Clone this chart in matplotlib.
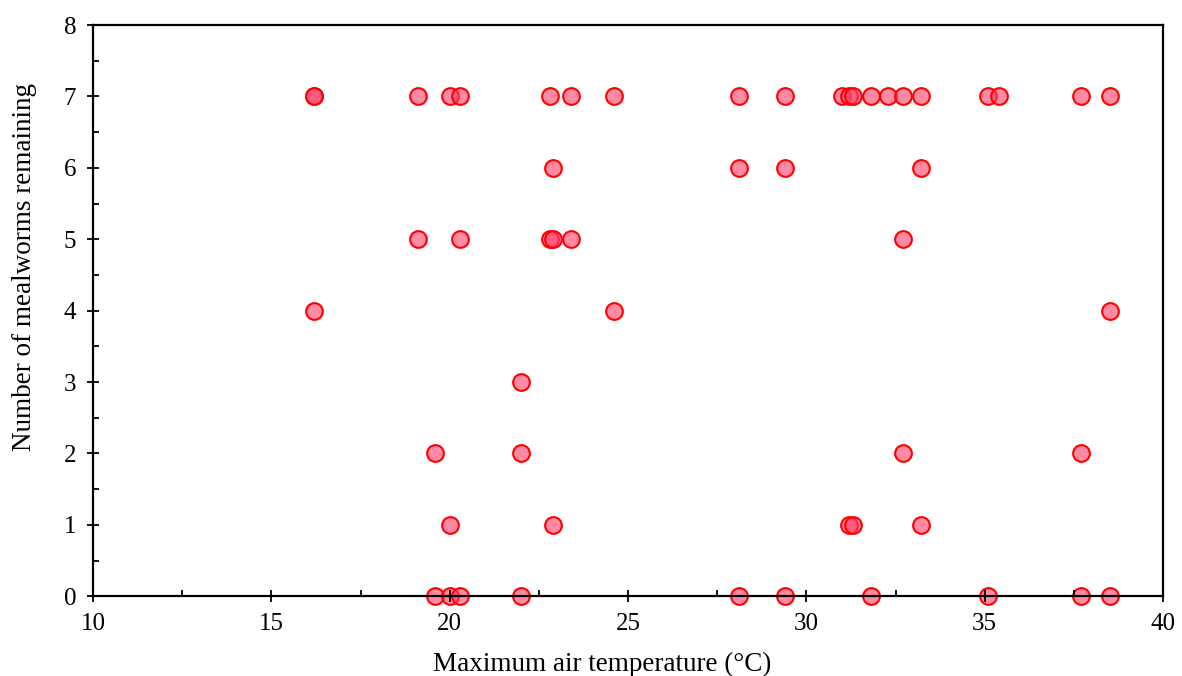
import matplotlib.pyplot as plt
from matplotlib.ticker import MultipleLocator

plt.rcParams["font.family"] = ["Liberation Serif", "DejaVu Serif"]

# max air temperature (deg C) and mealworms remaining, one entry per trial
temp_7 = [16.2, 16.2, 19.1, 20.0, 20.3, 22.8, 23.4, 24.6, 28.1, 29.4,
          31.0, 31.2, 31.3, 31.8, 32.3, 32.7, 33.2, 35.1, 35.4, 37.7, 38.5]
temp_6 = [22.9, 28.1, 29.4, 33.2]
temp_5 = [19.1, 20.3, 22.8, 22.9, 23.4, 32.7]
temp_4 = [16.2, 24.6, 38.5]
temp_3 = [22.0]
temp_2 = [19.6, 22.0, 32.7, 37.7]
temp_1 = [20.0, 22.9, 31.2, 31.3, 33.2]
temp_0 = [19.6, 20.0, 20.3, 22.0, 28.1, 29.4, 31.8, 35.1, 37.7, 38.5]

groups = {7: temp_7, 6: temp_6, 5: temp_5, 4: temp_4,
          3: temp_3, 2: temp_2, 1: temp_1, 0: temp_0}

x = []
y = []
for count, temps in groups.items():
    x += temps
    y += [count] * len(temps)

fig = plt.figure(figsize=(11.82, 6.76), dpi=100)
ax = fig.add_axes([0.0787, 0.118, 0.9053, 0.845])

ax.scatter(x, y, s=145, facecolors=(1.0, 0.24, 0.4, 0.6),
           edgecolors="red", linewidths=1.5, clip_on=False, zorder=1)

ax.set_xlim(10, 40)
ax.set_ylim(0, 8)
ax.xaxis.set_major_locator(MultipleLocator(5))
ax.xaxis.set_minor_locator(MultipleLocator(2.5))
ax.yaxis.set_major_locator(MultipleLocator(1))
ax.yaxis.set_minor_locator(MultipleLocator(0.5))
ax.tick_params(which="both", top=False, right=False, labelsize=18, width=1.3)
ax.tick_params(which="major", direction="inout", length=8, pad=8)
ax.tick_params(which="minor", direction="in", length=4)
for s in ax.spines.values():
    s.set_linewidth(1.6)

ax.set_xlabel("Maximum air temperature (°C)", fontsize=19.5)
ax.set_ylabel("Number of mealworms remaining", fontsize=19.5)
ax.xaxis.set_label_coords(0.476, -0.098)
ax.yaxis.set_label_coords(-0.052, 0.576)

fig.savefig("out.png", dpi=100)
